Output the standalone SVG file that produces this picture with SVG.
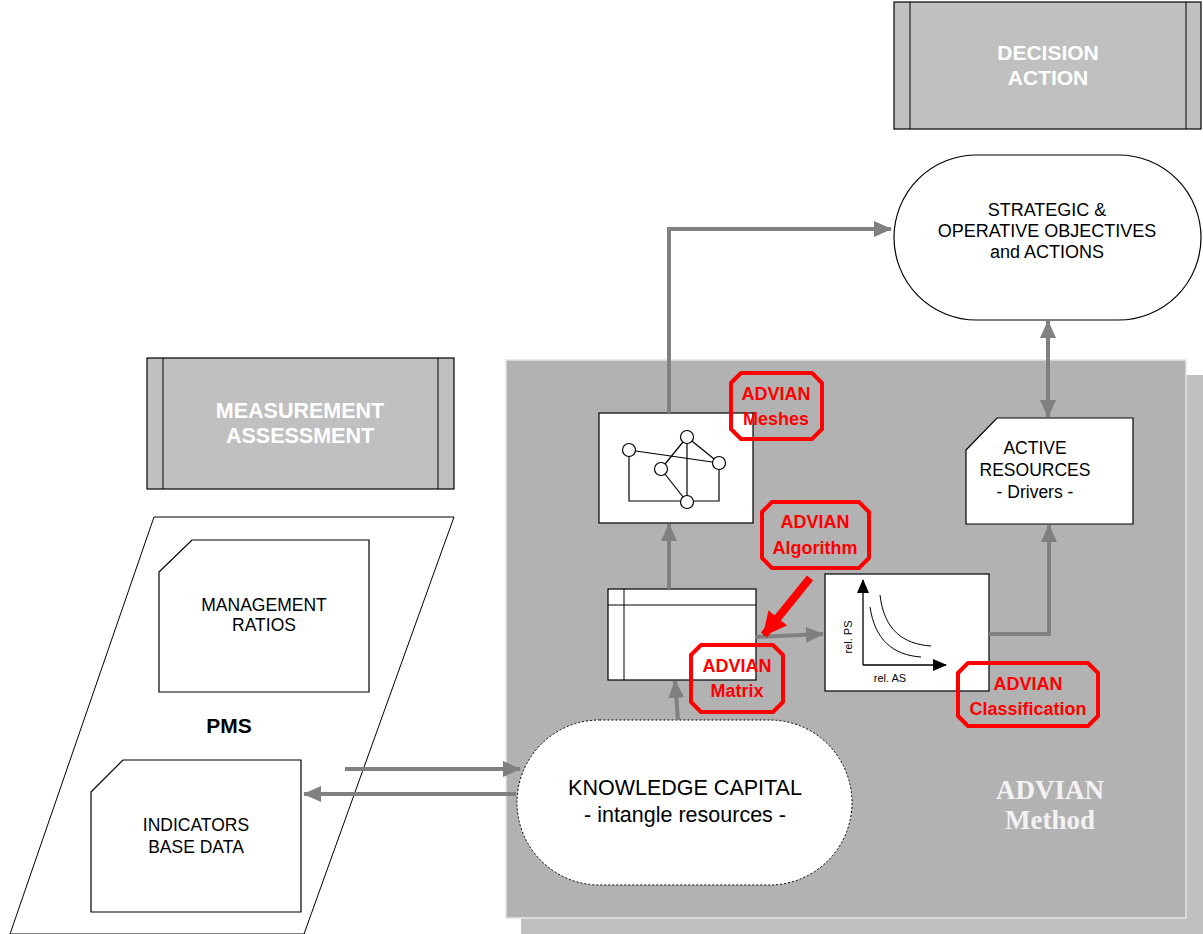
<svg xmlns="http://www.w3.org/2000/svg" width="1203" height="934" viewBox="0 0 1203 934">
<style>
text{font-family:"Liberation Sans",Arial,sans-serif;text-anchor:middle}
.box{fill:#fff;stroke:#000;stroke-width:1.2}
.gbox{fill:#c0c0c0;stroke:#000;stroke-width:1.2}
.wt{fill:#fff;font-weight:bold;font-size:21px}
.bt{fill:#000;font-size:17.5px}
.lbl{fill:none;stroke:#ff0000;stroke-width:4;stroke-linejoin:round}
.rt{fill:#ff0000;font-weight:bold;font-size:18px}
.conn{fill:none;stroke:#808080;stroke-width:4}
.thin{fill:none;stroke:#000;stroke-width:1}
</style>
<defs>
<marker id="ga" markerUnits="userSpaceOnUse" markerWidth="18" markerHeight="16" refX="17" refY="8" orient="auto-start-reverse"><path d="M0,0 L18,8 L0,16 z" fill="#808080"/></marker>
<marker id="ra" markerUnits="userSpaceOnUse" markerWidth="24" markerHeight="24" refX="22" refY="12" orient="auto"><path d="M0,0 L24,12 L0,24 z" fill="#ff0000"/></marker>
<marker id="ka" markerUnits="userSpaceOnUse" markerWidth="14" markerHeight="12" refX="13" refY="6" orient="auto"><path d="M0,0 L14,6 L0,12 z" fill="#000"/></marker>
</defs>
<rect width="1203" height="934" fill="#fff"/>

<g id="panel">
<rect x="521" y="375" width="682" height="559" fill="#c0c0c0"/>
<rect x="506" y="360" width="680" height="558" fill="#b2b2b2" stroke="#e4e4e4" stroke-width="1.5"/>
<text x="1050" y="799" style="font-family:'Liberation Serif','DejaVu Serif',serif;font-weight:bold;font-size:27px;fill:#f2f2f2">ADVIAN</text>
<text x="1050" y="829" style="font-family:'Liberation Serif','DejaVu Serif',serif;font-weight:bold;font-size:27px;fill:#f2f2f2">Method</text>
</g>

<g id="decision-action">
<rect class="gbox" x="894" y="2" width="307" height="127"/>
<line class="thin" x1="910" y1="2" x2="910" y2="129"/>
<line class="thin" x1="1186" y1="2" x2="1186" y2="129"/>
<text class="wt" x="1048" y="60">DECISION</text>
<text class="wt" x="1048" y="85">ACTION</text>
</g>

<g id="strategic">
<rect class="box" x="894" y="155" width="307" height="165" rx="82.5" ry="82.5"/>
<text class="bt" x="1047" y="216" style="font-size:18px">STRATEGIC &amp;</text>
<text class="bt" x="1047" y="237" style="font-size:18px">OPERATIVE OBJECTIVES</text>
<text class="bt" x="1047" y="258" style="font-size:18px">and ACTIONS</text>
</g>

<g id="measurement-assessment">
<rect class="gbox" x="147" y="358" width="307" height="131"/>
<line class="thin" x1="163" y1="358" x2="163" y2="489"/>
<line class="thin" x1="438" y1="358" x2="438" y2="489"/>
<text class="wt" x="300" y="418" style="font-size:21.5px">MEASUREMENT</text>
<text class="wt" x="300" y="443" style="font-size:21.5px">ASSESSMENT</text>
</g>

<g id="pms">
<polygon points="154,517 454,517 304,934 10,934" fill="#fff" stroke="#000" stroke-width="1"/>
<text x="229" y="733" style="font-weight:bold;font-size:21px">PMS</text>
</g>

<g id="management-ratios">
<path class="box" d="M159,572 L192,540 H369 V692 H159 Z"/>
<text class="bt" x="264" y="611">MANAGEMENT</text>
<text class="bt" x="264" y="631">RATIOS</text>
</g>

<g id="indicators">
<path class="box" d="M91,792 L123,760 H301 V912 H91 Z"/>
<text class="bt" x="196" y="831">INDICATORS</text>
<text class="bt" x="196" y="853">BASE DATA</text>
</g>

<g id="meshes">
<rect class="box" x="599" y="413" width="154" height="110"/>
<g stroke="#000" stroke-width="1.2" fill="none">
<line x1="629" y1="450" x2="719" y2="463"/>
<line x1="687" y1="437" x2="661" y2="469"/>
<line x1="687" y1="437" x2="719" y2="463"/>
<line x1="687" y1="437" x2="687" y2="502"/>
<line x1="661" y1="469" x2="687" y2="502"/>
<polyline points="629,450 629,501 719,501 719,463"/>
</g>
<g fill="#fff" stroke="#000" stroke-width="1.2">
<circle cx="629" cy="450" r="6.5"/>
<circle cx="687" cy="437" r="6.5"/>
<circle cx="661" cy="469" r="6.5"/>
<circle cx="719" cy="463" r="6.5"/>
<circle cx="687" cy="502" r="6.5"/>
</g>
</g>

<g id="matrix">
<rect class="box" x="608" y="589" width="148" height="91"/>
<line class="thin" x1="608" y1="605" x2="756" y2="605"/>
<line class="thin" x1="624" y1="589" x2="624" y2="680"/>
</g>

<g id="chart">
<rect class="box" x="825" y="574" width="164" height="117"/>
<line x1="863" y1="665" x2="863" y2="580" stroke="#000" stroke-width="1.3" marker-end="url(#ka)"/>
<line x1="863" y1="665" x2="946" y2="665" stroke="#000" stroke-width="1.3" marker-end="url(#ka)"/>
<path class="thin" d="M870,607 C875,640 893,655 921,657"/>
<path class="thin" d="M880,595 C884,630 903,644 931,646"/>
<text transform="translate(852,637) rotate(-90)" style="font-size:11px">rel. PS</text>
<text x="890" y="682" style="font-size:11px">rel. AS</text>
</g>

<g id="active-resources">
<path class="box" d="M966,450 L997,418 H1133 V524 H966 Z"/>
<text class="bt" x="1035" y="454">ACTIVE</text>
<text class="bt" x="1035" y="476">RESOURCES</text>
<text class="bt" x="1035" y="498">- Drivers -</text>
</g>

<g id="knowledge-capital">
<rect x="517" y="720" width="335" height="165" rx="82.5" ry="82.5" fill="#fff" stroke="#000" stroke-width="1" stroke-dasharray="2,2"/>
<text x="685" y="795" style="font-size:21.5px">KNOWLEDGE CAPITAL</text>
<text x="685" y="822" style="font-size:21.5px">- intangle resources -</text>
</g>

<g id="connectors">
<path class="conn" d="M669,413 V229 H891" marker-end="url(#ga)"/>
<path class="conn" d="M669,589 V524" marker-end="url(#ga)"/>
<path class="conn" d="M678,720 L675,681" marker-end="url(#ga)"/>
<path class="conn" d="M755,637 L823,634" marker-end="url(#ga)"/>
<path class="conn" d="M989,634 H1049 V525" marker-end="url(#ga)"/>
<path class="conn" d="M1048,321 V417" marker-start="url(#ga)" marker-end="url(#ga)"/>
<path class="conn" d="M345,769 H520" marker-end="url(#ga)"/>
<path class="conn" d="M516,794 H304" marker-end="url(#ga)"/>
<path d="M810,578 L764,635" stroke="#ff0000" stroke-width="8" fill="none" marker-end="url(#ra)"/>
</g>

<g id="label-meshes">
<path class="lbl" d="M741,373 H812 L822,383 V429 L812,439 H741 L731,429 V383 Z"/>
<text class="rt" x="776" y="400">ADVIAN</text>
<text class="rt" x="776" y="425">Meshes</text>
</g>
<g id="label-algorithm">
<path class="lbl" d="M772,502 H859 L869,512 V558 L859,568 H772 L762,558 V512 Z"/>
<text class="rt" x="815" y="528">ADVIAN</text>
<text class="rt" x="815" y="554">Algorithm</text>
</g>
<g id="label-matrix">
<path class="lbl" d="M701,645 H773 L783,655 V702 L773,712 H701 L691,702 V655 Z"/>
<text class="rt" x="737" y="672">ADVIAN</text>
<text class="rt" x="737" y="697">Matrix</text>
</g>
<g id="label-classification">
<path class="lbl" d="M968,663 H1088 L1098,673 V716 L1088,726 H968 L958,716 V673 Z"/>
<text class="rt" x="1028" y="690">ADVIAN</text>
<text class="rt" x="1028" y="715">Classification</text>
</g>
</svg>
